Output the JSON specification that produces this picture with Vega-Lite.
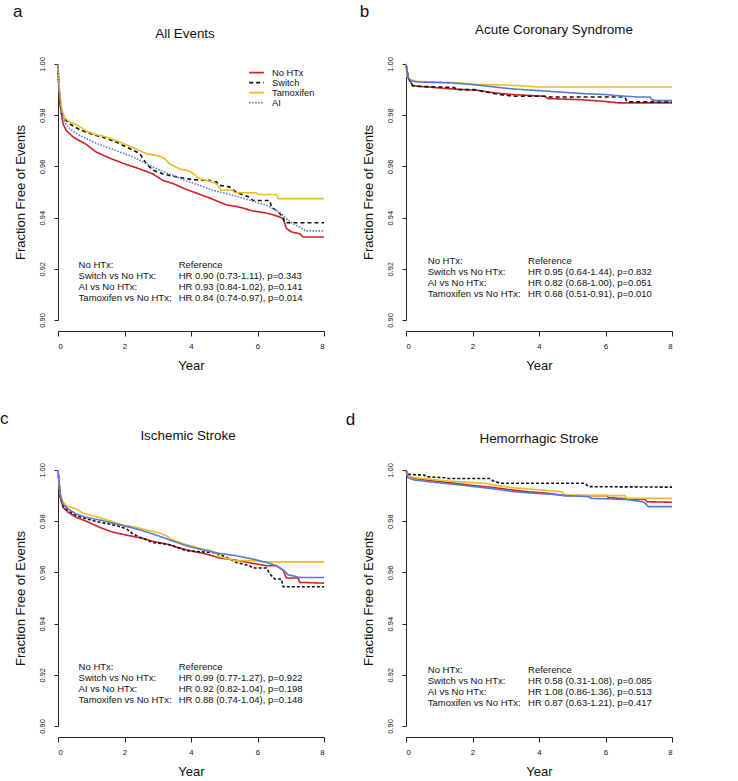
{
"$schema":"https://vega.github.io/schema/vega-lite/v6.json",
"background":"white",
"padding":{"left":0,"top":2,"right":0,"bottom":0},
"config":{"font":"Liberation Sans","view":{"stroke":null},
 "axis":{"grid":false,"domainColor":"#222","tickColor":"#222","labelColor":"#111","titleColor":"#111","titleFontWeight":"normal","domainWidth":1,"tickWidth":1,"labelFont":"Liberation Sans","titleFont":"Liberation Sans"},
 "title":{"fontWeight":"normal","color":"#111","font":"Liberation Sans"},
 "legend":{"labelFont":"Liberation Sans"}},
"datasets":{
"curves":[
{"panel":"a","group":"No HTx","year":0,"surv":1},{"panel":"a","group":"No HTx","year":0.02,"surv":0.992},{"panel":"a","group":"No HTx","year":0.05,"surv":0.985},{"panel":"a","group":"No HTx","year":0.15,"surv":0.9767},{"panel":"a","group":"No HTx","year":0.25,"surv":0.974},{"panel":"a","group":"No HTx","year":0.45,"surv":0.9715},{"panel":"a","group":"No HTx","year":0.65,"surv":0.970},{"panel":"a","group":"No HTx","year":0.85,"surv":0.9686},{"panel":"a","group":"No HTx","year":1.15,"surv":0.9656},{"panel":"a","group":"No HTx","year":1.6,"surv":0.963},{"panel":"a","group":"No HTx","year":2.0,"surv":0.961},{"panel":"a","group":"No HTx","year":2.46,"surv":0.959},{"panel":"a","group":"No HTx","year":2.86,"surv":0.957},{"panel":"a","group":"No HTx","year":3.16,"surv":0.9545},{"panel":"a","group":"No HTx","year":3.46,"surv":0.9533},{"panel":"a","group":"No HTx","year":3.86,"surv":0.951},{"panel":"a","group":"No HTx","year":4.16,"surv":0.9496},{"panel":"a","group":"No HTx","year":4.61,"surv":0.9474},{"panel":"a","group":"No HTx","year":5.06,"surv":0.945},{"panel":"a","group":"No HTx","year":5.46,"surv":0.9441},{"panel":"a","group":"No HTx","year":5.86,"surv":0.9426},{"panel":"a","group":"No HTx","year":6.27,"surv":0.9418},{"panel":"a","group":"No HTx","year":6.62,"surv":0.9405},{"panel":"a","group":"No HTx","year":6.77,"surv":0.9396},{"panel":"a","group":"No HTx","year":6.87,"surv":0.9357},{"panel":"a","group":"No HTx","year":7.02,"surv":0.9344},{"panel":"a","group":"No HTx","year":7.27,"surv":0.9337},{"panel":"a","group":"No HTx","year":7.37,"surv":0.9324},{"panel":"a","group":"No HTx","year":8,"surv":0.9324},
{"panel":"a","group":"Switch","year":0,"surv":1},{"panel":"a","group":"Switch","year":0.02,"surv":0.992},{"panel":"a","group":"Switch","year":0.1,"surv":0.9812},{"panel":"a","group":"Switch","year":0.2,"surv":0.9786},{"panel":"a","group":"Switch","year":0.35,"surv":0.9766},{"panel":"a","group":"Switch","year":0.6,"surv":0.9747},{"panel":"a","group":"Switch","year":0.85,"surv":0.9734},{"panel":"a","group":"Switch","year":1.15,"surv":0.9721},{"panel":"a","group":"Switch","year":1.45,"surv":0.971},{"panel":"a","group":"Switch","year":1.75,"surv":0.9695},{"panel":"a","group":"Switch","year":2.15,"surv":0.967},{"panel":"a","group":"Switch","year":2.46,"surv":0.965},{"panel":"a","group":"Switch","year":2.66,"surv":0.961},{"panel":"a","group":"Switch","year":2.86,"surv":0.9585},{"panel":"a","group":"Switch","year":3.16,"surv":0.957},{"panel":"a","group":"Switch","year":3.56,"surv":0.9559},{"panel":"a","group":"Switch","year":4.06,"surv":0.9548},{"panel":"a","group":"Switch","year":4.56,"surv":0.9546},{"panel":"a","group":"Switch","year":4.61,"surv":0.954},{"panel":"a","group":"Switch","year":4.76,"surv":0.954},{"panel":"a","group":"Switch","year":4.86,"surv":0.9526},{"panel":"a","group":"Switch","year":5.16,"surv":0.952},{"panel":"a","group":"Switch","year":5.31,"surv":0.9504},{"panel":"a","group":"Switch","year":5.46,"surv":0.9494},{"panel":"a","group":"Switch","year":5.76,"surv":0.948},{"panel":"a","group":"Switch","year":5.86,"surv":0.9467},{"panel":"a","group":"Switch","year":6.37,"surv":0.9467},{"panel":"a","group":"Switch","year":6.42,"surv":0.944},{"panel":"a","group":"Switch","year":6.57,"surv":0.9428},{"panel":"a","group":"Switch","year":6.67,"surv":0.9415},{"panel":"a","group":"Switch","year":6.77,"surv":0.9402},{"panel":"a","group":"Switch","year":6.82,"surv":0.938},{"panel":"a","group":"Switch","year":8,"surv":0.938},
{"panel":"a","group":"Tamoxifen","year":0,"surv":1},{"panel":"a","group":"Tamoxifen","year":0.02,"surv":0.993},{"panel":"a","group":"Tamoxifen","year":0.1,"surv":0.983},{"panel":"a","group":"Tamoxifen","year":0.2,"surv":0.979},{"panel":"a","group":"Tamoxifen","year":0.35,"surv":0.9773},{"panel":"a","group":"Tamoxifen","year":0.6,"surv":0.976},{"panel":"a","group":"Tamoxifen","year":0.85,"surv":0.9738},{"panel":"a","group":"Tamoxifen","year":1.15,"surv":0.9724},{"panel":"a","group":"Tamoxifen","year":1.45,"surv":0.9715},{"panel":"a","group":"Tamoxifen","year":1.86,"surv":0.9695},{"panel":"a","group":"Tamoxifen","year":2.26,"surv":0.9673},{"panel":"a","group":"Tamoxifen","year":2.66,"surv":0.965},{"panel":"a","group":"Tamoxifen","year":3.06,"surv":0.964},{"panel":"a","group":"Tamoxifen","year":3.21,"surv":0.963},{"panel":"a","group":"Tamoxifen","year":3.36,"surv":0.961},{"panel":"a","group":"Tamoxifen","year":3.66,"surv":0.959},{"panel":"a","group":"Tamoxifen","year":3.96,"surv":0.9582},{"panel":"a","group":"Tamoxifen","year":4.26,"surv":0.9552},{"panel":"a","group":"Tamoxifen","year":4.56,"surv":0.9542},{"panel":"a","group":"Tamoxifen","year":4.76,"surv":0.9533},{"panel":"a","group":"Tamoxifen","year":4.91,"surv":0.9507},{"panel":"a","group":"Tamoxifen","year":5.26,"surv":0.9507},{"panel":"a","group":"Tamoxifen","year":5.31,"surv":0.9497},{"panel":"a","group":"Tamoxifen","year":5.96,"surv":0.9497},{"panel":"a","group":"Tamoxifen","year":6.01,"surv":0.949},{"panel":"a","group":"Tamoxifen","year":6.57,"surv":0.949},{"panel":"a","group":"Tamoxifen","year":6.62,"surv":0.9474},{"panel":"a","group":"Tamoxifen","year":8,"surv":0.9474},
{"panel":"a","group":"AI","year":0,"surv":1},{"panel":"a","group":"AI","year":0.02,"surv":0.992},{"panel":"a","group":"AI","year":0.1,"surv":0.9806},{"panel":"a","group":"AI","year":0.2,"surv":0.9773},{"panel":"a","group":"AI","year":0.35,"surv":0.9747},{"panel":"a","group":"AI","year":0.6,"surv":0.9725},{"panel":"a","group":"AI","year":0.85,"surv":0.9708},{"panel":"a","group":"AI","year":1.15,"surv":0.9691},{"panel":"a","group":"AI","year":1.45,"surv":0.9676},{"panel":"a","group":"AI","year":1.86,"surv":0.9656},{"panel":"a","group":"AI","year":2.26,"surv":0.9637},{"panel":"a","group":"AI","year":2.66,"surv":0.961},{"panel":"a","group":"AI","year":3.06,"surv":0.9585},{"panel":"a","group":"AI","year":3.46,"surv":0.9565},{"panel":"a","group":"AI","year":3.86,"surv":0.9543},{"panel":"a","group":"AI","year":4.26,"surv":0.9526},{"panel":"a","group":"AI","year":4.66,"surv":0.9507},{"panel":"a","group":"AI","year":5.06,"surv":0.9494},{"panel":"a","group":"AI","year":5.46,"surv":0.948},{"panel":"a","group":"AI","year":5.86,"surv":0.9464},{"panel":"a","group":"AI","year":6.27,"surv":0.9448},{"panel":"a","group":"AI","year":6.57,"surv":0.9428},{"panel":"a","group":"AI","year":6.77,"surv":0.9409},{"panel":"a","group":"AI","year":6.92,"surv":0.939},{"panel":"a","group":"AI","year":7.07,"surv":0.9376},{"panel":"a","group":"AI","year":7.27,"surv":0.9363},{"panel":"a","group":"AI","year":7.47,"surv":0.9348},{"panel":"a","group":"AI","year":8,"surv":0.9348},
{"panel":"b","group":"No HTx","year":0,"surv":1},{"panel":"b","group":"No HTx","year":0.07,"surv":0.9945},{"panel":"b","group":"No HTx","year":0.2,"surv":0.9917},{"panel":"b","group":"No HTx","year":0.35,"surv":0.9913},{"panel":"b","group":"No HTx","year":0.85,"surv":0.9908},{"panel":"b","group":"No HTx","year":1.46,"surv":0.9902},{"panel":"b","group":"No HTx","year":2.16,"surv":0.9897},{"panel":"b","group":"No HTx","year":2.67,"surv":0.9887},{"panel":"b","group":"No HTx","year":3.17,"surv":0.9881},{"panel":"b","group":"No HTx","year":4.17,"surv":0.9874},{"panel":"b","group":"No HTx","year":4.27,"surv":0.9865},{"panel":"b","group":"No HTx","year":5.18,"surv":0.9861},{"panel":"b","group":"No HTx","year":5.88,"surv":0.9855},{"panel":"b","group":"No HTx","year":6.39,"surv":0.9848},{"panel":"b","group":"No HTx","year":8,"surv":0.9848},
{"panel":"b","group":"Switch","year":0,"surv":1},{"panel":"b","group":"Switch","year":0.07,"surv":0.9945},{"panel":"b","group":"Switch","year":0.2,"surv":0.9914},{"panel":"b","group":"Switch","year":1.46,"surv":0.9908},{"panel":"b","group":"Switch","year":1.51,"surv":0.99},{"panel":"b","group":"Switch","year":2.06,"surv":0.99},{"panel":"b","group":"Switch","year":2.67,"surv":0.9884},{"panel":"b","group":"Switch","year":2.97,"surv":0.9878},{"panel":"b","group":"Switch","year":3.27,"surv":0.9874},{"panel":"b","group":"Switch","year":4.17,"surv":0.9874},{"panel":"b","group":"Switch","year":4.27,"surv":0.9871},{"panel":"b","group":"Switch","year":6.59,"surv":0.9871},{"panel":"b","group":"Switch","year":6.64,"surv":0.9852},{"panel":"b","group":"Switch","year":8,"surv":0.9852},
{"panel":"b","group":"Tamoxifen","year":0,"surv":1},{"panel":"b","group":"Tamoxifen","year":0.03,"surv":0.995},{"panel":"b","group":"Tamoxifen","year":0.15,"surv":0.9939},{"panel":"b","group":"Tamoxifen","year":0.3,"surv":0.9932},{"panel":"b","group":"Tamoxifen","year":0.85,"surv":0.993},{"panel":"b","group":"Tamoxifen","year":1.56,"surv":0.9927},{"panel":"b","group":"Tamoxifen","year":2.06,"surv":0.992},{"panel":"b","group":"Tamoxifen","year":2.87,"surv":0.9918},{"panel":"b","group":"Tamoxifen","year":3.57,"surv":0.9914},{"panel":"b","group":"Tamoxifen","year":3.97,"surv":0.991},{"panel":"b","group":"Tamoxifen","year":8,"surv":0.991},
{"panel":"b","group":"AI","year":0,"surv":1},{"panel":"b","group":"AI","year":0.05,"surv":0.995},{"panel":"b","group":"AI","year":0.15,"surv":0.9934},{"panel":"b","group":"AI","year":0.35,"surv":0.993},{"panel":"b","group":"AI","year":1.36,"surv":0.9926},{"panel":"b","group":"AI","year":2.06,"surv":0.9919},{"panel":"b","group":"AI","year":2.67,"surv":0.991},{"panel":"b","group":"AI","year":3.27,"surv":0.9902},{"panel":"b","group":"AI","year":3.87,"surv":0.9897},{"panel":"b","group":"AI","year":4.58,"surv":0.9891},{"panel":"b","group":"AI","year":5.38,"surv":0.9884},{"panel":"b","group":"AI","year":5.98,"surv":0.9881},{"panel":"b","group":"AI","year":6.39,"surv":0.9876},{"panel":"b","group":"AI","year":6.99,"surv":0.9871},{"panel":"b","group":"AI","year":7.34,"surv":0.9871},{"panel":"b","group":"AI","year":7.39,"surv":0.9861},{"panel":"b","group":"AI","year":7.5,"surv":0.9857},{"panel":"b","group":"AI","year":8,"surv":0.9857},
{"panel":"c","group":"No HTx","year":0,"surv":1},{"panel":"c","group":"No HTx","year":0.07,"surv":0.9894},{"panel":"c","group":"No HTx","year":0.15,"surv":0.9854},{"panel":"c","group":"No HTx","year":0.3,"surv":0.9835},{"panel":"c","group":"No HTx","year":0.55,"surv":0.9815},{"panel":"c","group":"No HTx","year":0.85,"surv":0.980},{"panel":"c","group":"No HTx","year":1.25,"surv":0.9776},{"panel":"c","group":"No HTx","year":1.65,"surv":0.9757},{"panel":"c","group":"No HTx","year":2.16,"surv":0.9743},{"panel":"c","group":"No HTx","year":2.56,"surv":0.9733},{"panel":"c","group":"No HTx","year":2.86,"surv":0.9721},{"panel":"c","group":"No HTx","year":3.26,"surv":0.9711},{"panel":"c","group":"No HTx","year":3.66,"surv":0.9695},{"panel":"c","group":"No HTx","year":4.06,"surv":0.9682},{"panel":"c","group":"No HTx","year":4.46,"surv":0.9672},{"panel":"c","group":"No HTx","year":4.86,"surv":0.9656},{"panel":"c","group":"No HTx","year":5.26,"surv":0.965},{"panel":"c","group":"No HTx","year":5.86,"surv":0.9635},{"panel":"c","group":"No HTx","year":6.27,"surv":0.9626},{"panel":"c","group":"No HTx","year":6.57,"surv":0.9626},{"panel":"c","group":"No HTx","year":6.77,"surv":0.9609},{"panel":"c","group":"No HTx","year":6.87,"surv":0.9578},{"panel":"c","group":"No HTx","year":7.22,"surv":0.9578},{"panel":"c","group":"No HTx","year":7.27,"surv":0.9561},{"panel":"c","group":"No HTx","year":8,"surv":0.9558},
{"panel":"c","group":"Switch","year":0,"surv":1},{"panel":"c","group":"Switch","year":0.07,"surv":0.9894},{"panel":"c","group":"Switch","year":0.15,"surv":0.9861},{"panel":"c","group":"Switch","year":0.3,"surv":0.9841},{"panel":"c","group":"Switch","year":0.55,"surv":0.9822},{"panel":"c","group":"Switch","year":0.85,"surv":0.9809},{"panel":"c","group":"Switch","year":1.25,"surv":0.9796},{"panel":"c","group":"Switch","year":1.76,"surv":0.9783},{"panel":"c","group":"Switch","year":2.06,"surv":0.977},{"panel":"c","group":"Switch","year":2.26,"surv":0.975},{"panel":"c","group":"Switch","year":2.46,"surv":0.9737},{"panel":"c","group":"Switch","year":2.86,"surv":0.9717},{"panel":"c","group":"Switch","year":3.36,"surv":0.9708},{"panel":"c","group":"Switch","year":3.86,"surv":0.9685},{"panel":"c","group":"Switch","year":4.36,"surv":0.968},{"panel":"c","group":"Switch","year":4.66,"surv":0.9678},{"panel":"c","group":"Switch","year":4.96,"surv":0.9665},{"panel":"c","group":"Switch","year":5.36,"surv":0.9639},{"panel":"c","group":"Switch","year":5.76,"surv":0.9626},{"panel":"c","group":"Switch","year":5.86,"surv":0.9617},{"panel":"c","group":"Switch","year":6.27,"surv":0.9617},{"panel":"c","group":"Switch","year":6.37,"surv":0.9594},{"panel":"c","group":"Switch","year":6.52,"surv":0.9574},{"panel":"c","group":"Switch","year":6.72,"surv":0.9574},{"panel":"c","group":"Switch","year":6.77,"surv":0.9544},{"panel":"c","group":"Switch","year":8,"surv":0.9544},
{"panel":"c","group":"Tamoxifen","year":0,"surv":1},{"panel":"c","group":"Tamoxifen","year":0.05,"surv":0.992},{"panel":"c","group":"Tamoxifen","year":0.15,"surv":0.9874},{"panel":"c","group":"Tamoxifen","year":0.3,"surv":0.9857},{"panel":"c","group":"Tamoxifen","year":0.55,"surv":0.9848},{"panel":"c","group":"Tamoxifen","year":0.75,"surv":0.9831},{"panel":"c","group":"Tamoxifen","year":1.15,"surv":0.9818},{"panel":"c","group":"Tamoxifen","year":1.55,"surv":0.9802},{"panel":"c","group":"Tamoxifen","year":1.96,"surv":0.9785},{"panel":"c","group":"Tamoxifen","year":2.36,"surv":0.9776},{"panel":"c","group":"Tamoxifen","year":2.76,"surv":0.9763},{"panel":"c","group":"Tamoxifen","year":3.06,"surv":0.9754},{"panel":"c","group":"Tamoxifen","year":3.26,"surv":0.9743},{"panel":"c","group":"Tamoxifen","year":3.46,"surv":0.9727},{"panel":"c","group":"Tamoxifen","year":3.86,"surv":0.9708},{"panel":"c","group":"Tamoxifen","year":4.36,"surv":0.9691},{"panel":"c","group":"Tamoxifen","year":4.66,"surv":0.9682},{"panel":"c","group":"Tamoxifen","year":4.86,"surv":0.9661},{"panel":"c","group":"Tamoxifen","year":5.16,"surv":0.9652},{"panel":"c","group":"Tamoxifen","year":5.31,"surv":0.9646},{"panel":"c","group":"Tamoxifen","year":5.86,"surv":0.9646},{"panel":"c","group":"Tamoxifen","year":6.17,"surv":0.9641},{"panel":"c","group":"Tamoxifen","year":8,"surv":0.9641},
{"panel":"c","group":"AI","year":0,"surv":1},{"panel":"c","group":"AI","year":0.07,"surv":0.990},{"panel":"c","group":"AI","year":0.15,"surv":0.9867},{"panel":"c","group":"AI","year":0.3,"surv":0.9848},{"panel":"c","group":"AI","year":0.55,"surv":0.9828},{"panel":"c","group":"AI","year":0.85,"surv":0.9815},{"panel":"c","group":"AI","year":1.35,"surv":0.9802},{"panel":"c","group":"AI","year":1.86,"surv":0.9786},{"panel":"c","group":"AI","year":2.36,"surv":0.977},{"panel":"c","group":"AI","year":2.86,"surv":0.975},{"panel":"c","group":"AI","year":3.36,"surv":0.9727},{"panel":"c","group":"AI","year":3.86,"surv":0.9704},{"panel":"c","group":"AI","year":4.36,"surv":0.9688},{"panel":"c","group":"AI","year":4.86,"surv":0.9674},{"panel":"c","group":"AI","year":5.36,"surv":0.9665},{"panel":"c","group":"AI","year":5.86,"surv":0.9652},{"panel":"c","group":"AI","year":6.27,"surv":0.9639},{"panel":"c","group":"AI","year":6.57,"surv":0.9626},{"panel":"c","group":"AI","year":6.77,"surv":0.9609},{"panel":"c","group":"AI","year":6.92,"surv":0.9591},{"panel":"c","group":"AI","year":7.27,"surv":0.958},{"panel":"c","group":"AI","year":8,"surv":0.958},
{"panel":"d","group":"No HTx","year":0,"surv":1},{"panel":"d","group":"No HTx","year":0.05,"surv":0.9978},{"panel":"d","group":"No HTx","year":0.25,"surv":0.9967},{"panel":"d","group":"No HTx","year":0.85,"surv":0.9957},{"panel":"d","group":"No HTx","year":1.46,"surv":0.9948},{"panel":"d","group":"No HTx","year":2.06,"surv":0.9939},{"panel":"d","group":"No HTx","year":2.67,"surv":0.9931},{"panel":"d","group":"No HTx","year":3.17,"surv":0.9922},{"panel":"d","group":"No HTx","year":3.67,"surv":0.9915},{"panel":"d","group":"No HTx","year":4.28,"surv":0.9909},{"panel":"d","group":"No HTx","year":4.78,"surv":0.99},{"panel":"d","group":"No HTx","year":6.04,"surv":0.99},{"panel":"d","group":"No HTx","year":6.09,"surv":0.9892},{"panel":"d","group":"No HTx","year":6.49,"surv":0.9889},{"panel":"d","group":"No HTx","year":6.89,"surv":0.9885},{"panel":"d","group":"No HTx","year":7.19,"surv":0.9885},{"panel":"d","group":"No HTx","year":7.24,"surv":0.9876},{"panel":"d","group":"No HTx","year":8,"surv":0.9874},
{"panel":"d","group":"Switch","year":0,"surv":1},{"panel":"d","group":"Switch","year":0.05,"surv":0.9983},{"panel":"d","group":"Switch","year":0.55,"surv":0.998},{"panel":"d","group":"Switch","year":0.6,"surv":0.9974},{"panel":"d","group":"Switch","year":1.16,"surv":0.997},{"panel":"d","group":"Switch","year":1.26,"surv":0.9967},{"panel":"d","group":"Switch","year":2.52,"surv":0.9967},{"panel":"d","group":"Switch","year":2.62,"surv":0.9957},{"panel":"d","group":"Switch","year":2.87,"surv":0.9948},{"panel":"d","group":"Switch","year":5.38,"surv":0.9948},{"panel":"d","group":"Switch","year":5.48,"surv":0.9935},{"panel":"d","group":"Switch","year":8,"surv":0.9933},
{"panel":"d","group":"Tamoxifen","year":0,"surv":1},{"panel":"d","group":"Tamoxifen","year":0.05,"surv":0.9978},{"panel":"d","group":"Tamoxifen","year":0.25,"surv":0.997},{"panel":"d","group":"Tamoxifen","year":0.65,"surv":0.9965},{"panel":"d","group":"Tamoxifen","year":1.16,"surv":0.9958},{"panel":"d","group":"Tamoxifen","year":1.86,"surv":0.9952},{"panel":"d","group":"Tamoxifen","year":2.36,"surv":0.9948},{"panel":"d","group":"Tamoxifen","year":2.67,"surv":0.9941},{"panel":"d","group":"Tamoxifen","year":3.17,"surv":0.9931},{"panel":"d","group":"Tamoxifen","year":3.67,"surv":0.9926},{"panel":"d","group":"Tamoxifen","year":4.08,"surv":0.9922},{"panel":"d","group":"Tamoxifen","year":4.68,"surv":0.9915},{"panel":"d","group":"Tamoxifen","year":4.78,"surv":0.9902},{"panel":"d","group":"Tamoxifen","year":5.48,"surv":0.99},{"panel":"d","group":"Tamoxifen","year":6.59,"surv":0.99},{"panel":"d","group":"Tamoxifen","year":6.64,"surv":0.9889},{"panel":"d","group":"Tamoxifen","year":8,"surv":0.9889},
{"panel":"d","group":"AI","year":0,"surv":1},{"panel":"d","group":"AI","year":0.05,"surv":0.997},{"panel":"d","group":"AI","year":0.25,"surv":0.9961},{"panel":"d","group":"AI","year":0.85,"surv":0.9952},{"panel":"d","group":"AI","year":1.46,"surv":0.9944},{"panel":"d","group":"AI","year":2.06,"surv":0.9935},{"panel":"d","group":"AI","year":2.67,"surv":0.9926},{"panel":"d","group":"AI","year":3.27,"surv":0.9915},{"panel":"d","group":"AI","year":3.87,"surv":0.9909},{"panel":"d","group":"AI","year":4.38,"surv":0.9905},{"panel":"d","group":"AI","year":4.78,"surv":0.99},{"panel":"d","group":"AI","year":5.48,"surv":0.9896},{"panel":"d","group":"AI","year":5.58,"surv":0.9889},{"panel":"d","group":"AI","year":6.59,"surv":0.9885},{"panel":"d","group":"AI","year":6.89,"surv":0.988},{"panel":"d","group":"AI","year":7.14,"surv":0.9875},{"panel":"d","group":"AI","year":7.19,"surv":0.987},{"panel":"d","group":"AI","year":7.29,"surv":0.9857},{"panel":"d","group":"AI","year":8,"surv":0.9857}
],
"notes":[
{"panel":"a","letter":"a","names":["No HTx:","Switch vs No HTx:","AI vs No HTx:","Tamoxifen vs No HTx:"],"hrs":["Reference","HR 0.90 (0.73-1.11), p=0.343","HR 0.93 (0.84-1.02), p=0.141","HR 0.84 (0.74-0.97), p=0.014"]},
{"panel":"b","letter":"b","names":["No HTx:","Switch vs No HTx:","AI vs No HTx:","Tamoxifen vs No HTx:"],"hrs":["Reference","HR 0.95 (0.64-1.44), p=0.832","HR 0.82 (0.68-1.00), p=0.051","HR 0.68 (0.51-0.91), p=0.010"]},
{"panel":"c","letter":"c","names":["No HTx:","Switch vs No HTx:","AI vs No HTx:","Tamoxifen vs No HTx:"],"hrs":["Reference","HR 0.99 (0.77-1.27), p=0.922","HR 0.92 (0.82-1.04), p=0.198","HR 0.88 (0.74-1.04), p=0.148"]},
{"panel":"d","letter":"d","names":["No HTx:","Switch vs No HTx:","AI vs No HTx:","Tamoxifen vs No HTx:"],"hrs":["Reference","HR 0.58 (0.31-1.08), p=0.085","HR 1.08 (0.86-1.36), p=0.513","HR 0.87 (0.63-1.21), p=0.417"]}
]},
"columns":2,
"spacing":{"row":150,"column":82},
"bounds":"flush",
"resolve":{"scale":{"color":"independent","strokeDash":"independent"},"legend":{"color":"independent","strokeDash":"independent"}},
"concat":[
 {"title":{"text":"All Events","fontSize":13.4,"dx":-6,"dy":2,"offset":-36},
  "width":266,"height":256,
  "layer":[
   {"data":{"name":"curves"},"transform":[{"filter":"datum.panel==='a'"}],
    "mark":{"type":"line","strokeWidth":1.6},
    "encoding":{
     "x":{"field":"year","type":"quantitative","scale":{"domain":[0,8],"nice":false,"zero":false},"axis":{"title":"Year","values":[0,2,4,6,8],"format":"d","offset":11,"tickSize":5,"labelPadding":6,"labelFontSize":7.8,"titleFontSize":13,"titlePadding":10}},
     "y":{"field":"surv","type":"quantitative","scale":{"domain":[0.9,1.0],"nice":false,"zero":false},"axis":{"title":"Fraction Free of Events","values":[0.9,0.92,0.94,0.96,0.98,1.0],"format":".2f","tickSize":4,"labelAngle":-90,"labelAlign":"center","labelBaseline":"bottom","labelPadding":7.5,"labelFontSize":7.5,"titleFontSize":13,"titlePadding":11}},
     "color":{"field":"group","type":"nominal","scale":{"domain":["No HTx","Switch","Tamoxifen","AI"],"range":["#CC2229","#111111","#EDBB22","#5779D3"]},"legend":{"title":null,"orient":"none","legendX":193.85,"legendY":4,"symbolType":"M-2.1,0L2.1,0","symbolSize":49,"symbolStrokeWidth":1.6,"labelFontSize":9.3,"labelOffset":10.85,"rowPadding":0,"padding":0,"labelColor":"#111"}},
     "strokeDash":{"field":"group","type":"nominal","scale":{"domain":["No HTx","Switch","Tamoxifen","AI"],"range":[[1,0],[4,3],[1,0],[1.5,1.5]]},"legend":{"title":null,"orient":"none","legendX":193.85,"legendY":4,"symbolType":"M-2.1,0L2.1,0","symbolSize":49,"symbolStrokeWidth":1.6,"labelFontSize":9.3,"labelOffset":10.85,"rowPadding":0,"padding":0,"labelColor":"#111"}}
    }},
   {"data":{"name":"notes"},"transform":[{"filter":"datum.panel==='a'"}],
    "mark":{"type":"text","align":"left","baseline":"top","fontSize":9.5,"lineHeight":10.9,"color":"#111"},
    "encoding":{"x":{"datum":0.62},"y":{"datum":0.9234},"text":{"field":"names","type":"nominal"}}},
   {"data":{"name":"notes"},"transform":[{"filter":"datum.panel==='a'"}],
    "mark":{"type":"text","align":"left","baseline":"top","fontSize":9.5,"lineHeight":10.9,"color":"#111"},
    "encoding":{"x":{"datum":3.63},"y":{"datum":0.9234},"text":{"field":"hrs","type":"nominal"}}},
   {"data":{"name":"notes"},"transform":[{"filter":"datum.panel==='a'"}],
    "mark":{"type":"text","align":"left","baseline":"alphabetic","fontSize":17,"color":"#111","clip":false},
    "encoding":{"x":{"datum":-1.353},"y":{"datum":1.0184},"text":{"field":"letter","type":"nominal"}}}
  ]},
 {"title":{"text":"Acute Coronary Syndrome","fontSize":13.4,"dx":15,"dy":-2.7,"offset":-36},
  "width":266,"height":256,
  "layer":[
   {"data":{"name":"curves"},"transform":[{"filter":"datum.panel==='b'"}],
    "mark":{"type":"line","strokeWidth":1.6},
    "encoding":{
     "x":{"field":"year","type":"quantitative","scale":{"domain":[0,8],"nice":false,"zero":false},"axis":{"title":"Year","values":[0,2,4,6,8],"format":"d","offset":11,"tickSize":5,"labelPadding":6,"labelFontSize":7.8,"titleFontSize":13,"titlePadding":10}},
     "y":{"field":"surv","type":"quantitative","scale":{"domain":[0.9,1.0],"nice":false,"zero":false},"axis":{"title":"Fraction Free of Events","values":[0.9,0.92,0.94,0.96,0.98,1.0],"format":".2f","tickSize":4,"labelAngle":-90,"labelAlign":"center","labelBaseline":"bottom","labelPadding":7.5,"labelFontSize":7.5,"titleFontSize":13,"titlePadding":11}},
     "color":{"field":"group","type":"nominal","scale":{"domain":["No HTx","Switch","Tamoxifen","AI"],"range":["#CC2229","#111111","#EDBB22","#5779D3"]},"legend":null},
     "strokeDash":{"field":"group","type":"nominal","scale":{"domain":["No HTx","Switch","Tamoxifen","AI"],"range":[[1,0],[4,3],[1,0],[1,0]]},"legend":null}
    }},
   {"data":{"name":"notes"},"transform":[{"filter":"datum.panel==='b'"}],
    "mark":{"type":"text","align":"left","baseline":"top","fontSize":9.5,"lineHeight":10.9,"color":"#111"},
    "encoding":{"x":{"datum":0.655},"y":{"datum":0.925},"text":{"field":"names","type":"nominal"}}},
   {"data":{"name":"notes"},"transform":[{"filter":"datum.panel==='b'"}],
    "mark":{"type":"text","align":"left","baseline":"top","fontSize":9.5,"lineHeight":10.9,"color":"#111"},
    "encoding":{"x":{"datum":3.67},"y":{"datum":0.925},"text":{"field":"hrs","type":"nominal"}}},
   {"data":{"name":"notes"},"transform":[{"filter":"datum.panel==='b'"}],
    "mark":{"type":"text","align":"left","baseline":"alphabetic","fontSize":17,"color":"#111","clip":false},
    "encoding":{"x":{"datum":-1.389},"y":{"datum":1.0184},"text":{"field":"letter","type":"nominal"}}}
  ]},
 {"title":{"text":"Ischemic Stroke","fontSize":13.4,"dx":-3,"dy":-4,"offset":-36},
  "width":266,"height":256,
  "layer":[
   {"data":{"name":"curves"},"transform":[{"filter":"datum.panel==='c'"}],
    "mark":{"type":"line","strokeWidth":1.6},
    "encoding":{
     "x":{"field":"year","type":"quantitative","scale":{"domain":[0,8],"nice":false,"zero":false},"axis":{"title":"Year","values":[0,2,4,6,8],"format":"d","offset":11,"tickSize":5,"labelPadding":6,"labelFontSize":7.8,"titleFontSize":13,"titlePadding":10}},
     "y":{"field":"surv","type":"quantitative","scale":{"domain":[0.9,1.0],"nice":false,"zero":false},"axis":{"title":"Fraction Free of Events","values":[0.9,0.92,0.94,0.96,0.98,1.0],"format":".2f","tickSize":4,"labelAngle":-90,"labelAlign":"center","labelBaseline":"bottom","labelPadding":7.5,"labelFontSize":7.5,"titleFontSize":13,"titlePadding":11}},
     "color":{"field":"group","type":"nominal","scale":{"domain":["No HTx","Switch","Tamoxifen","AI"],"range":["#CC2229","#111111","#EDBB22","#5779D3"]},"legend":null},
     "strokeDash":{"field":"group","type":"nominal","scale":{"domain":["No HTx","Switch","Tamoxifen","AI"],"range":[[1,0],[3,2],[1,0],[1,0]]},"legend":null}
    }},
   {"data":{"name":"notes"},"transform":[{"filter":"datum.panel==='c'"}],
    "mark":{"type":"text","align":"left","baseline":"top","fontSize":9.5,"lineHeight":10.9,"color":"#111"},
    "encoding":{"x":{"datum":0.62},"y":{"datum":0.925},"text":{"field":"names","type":"nominal"}}},
   {"data":{"name":"notes"},"transform":[{"filter":"datum.panel==='c'"}],
    "mark":{"type":"text","align":"left","baseline":"top","fontSize":9.5,"lineHeight":10.9,"color":"#111"},
    "encoding":{"x":{"datum":3.63},"y":{"datum":0.925},"text":{"field":"hrs","type":"nominal"}}},
   {"data":{"name":"notes"},"transform":[{"filter":"datum.panel==='c'"}],
    "mark":{"type":"text","align":"left","baseline":"alphabetic","fontSize":17,"color":"#111","clip":false},
    "encoding":{"x":{"datum":-1.744},"y":{"datum":1.0179},"text":{"field":"letter","type":"nominal"}}}
  ]},
 {"title":{"text":"Hemorrhagic Stroke","fontSize":13.4,"dx":0,"dy":-1.3,"offset":-36},
  "width":266,"height":256,
  "layer":[
   {"data":{"name":"curves"},"transform":[{"filter":"datum.panel==='d'"}],
    "mark":{"type":"line","strokeWidth":1.6},
    "encoding":{
     "x":{"field":"year","type":"quantitative","scale":{"domain":[0,8],"nice":false,"zero":false},"axis":{"title":"Year","values":[0,2,4,6,8],"format":"d","offset":11,"tickSize":5,"labelPadding":6,"labelFontSize":7.8,"titleFontSize":13,"titlePadding":10}},
     "y":{"field":"surv","type":"quantitative","scale":{"domain":[0.9,1.0],"nice":false,"zero":false},"axis":{"title":"Fraction Free of Events","values":[0.9,0.92,0.94,0.96,0.98,1.0],"format":".2f","tickSize":4,"labelAngle":-90,"labelAlign":"center","labelBaseline":"bottom","labelPadding":7.5,"labelFontSize":7.5,"titleFontSize":13,"titlePadding":11}},
     "color":{"field":"group","type":"nominal","scale":{"domain":["No HTx","Switch","Tamoxifen","AI"],"range":["#CC2229","#111111","#EDBB22","#5779D3"]},"legend":null},
     "strokeDash":{"field":"group","type":"nominal","scale":{"domain":["No HTx","Switch","Tamoxifen","AI"],"range":[[1,0],[3,2],[1,0],[1,0]]},"legend":null}
    }},
   {"data":{"name":"notes"},"transform":[{"filter":"datum.panel==='d'"}],
    "mark":{"type":"text","align":"left","baseline":"top","fontSize":9.5,"lineHeight":10.9,"color":"#111"},
    "encoding":{"x":{"datum":0.655},"y":{"datum":0.9237},"text":{"field":"names","type":"nominal"}}},
   {"data":{"name":"notes"},"transform":[{"filter":"datum.panel==='d'"}],
    "mark":{"type":"text","align":"left","baseline":"top","fontSize":9.5,"lineHeight":10.9,"color":"#111"},
    "encoding":{"x":{"datum":3.67},"y":{"datum":0.9237},"text":{"field":"hrs","type":"nominal"}}},
   {"data":{"name":"notes"},"transform":[{"filter":"datum.panel==='d'"}],
    "mark":{"type":"text","align":"left","baseline":"alphabetic","fontSize":17,"color":"#111","clip":false},
    "encoding":{"x":{"datum":-1.81},"y":{"datum":1.0176},"text":{"field":"letter","type":"nominal"}}}
  ]}
]
}
